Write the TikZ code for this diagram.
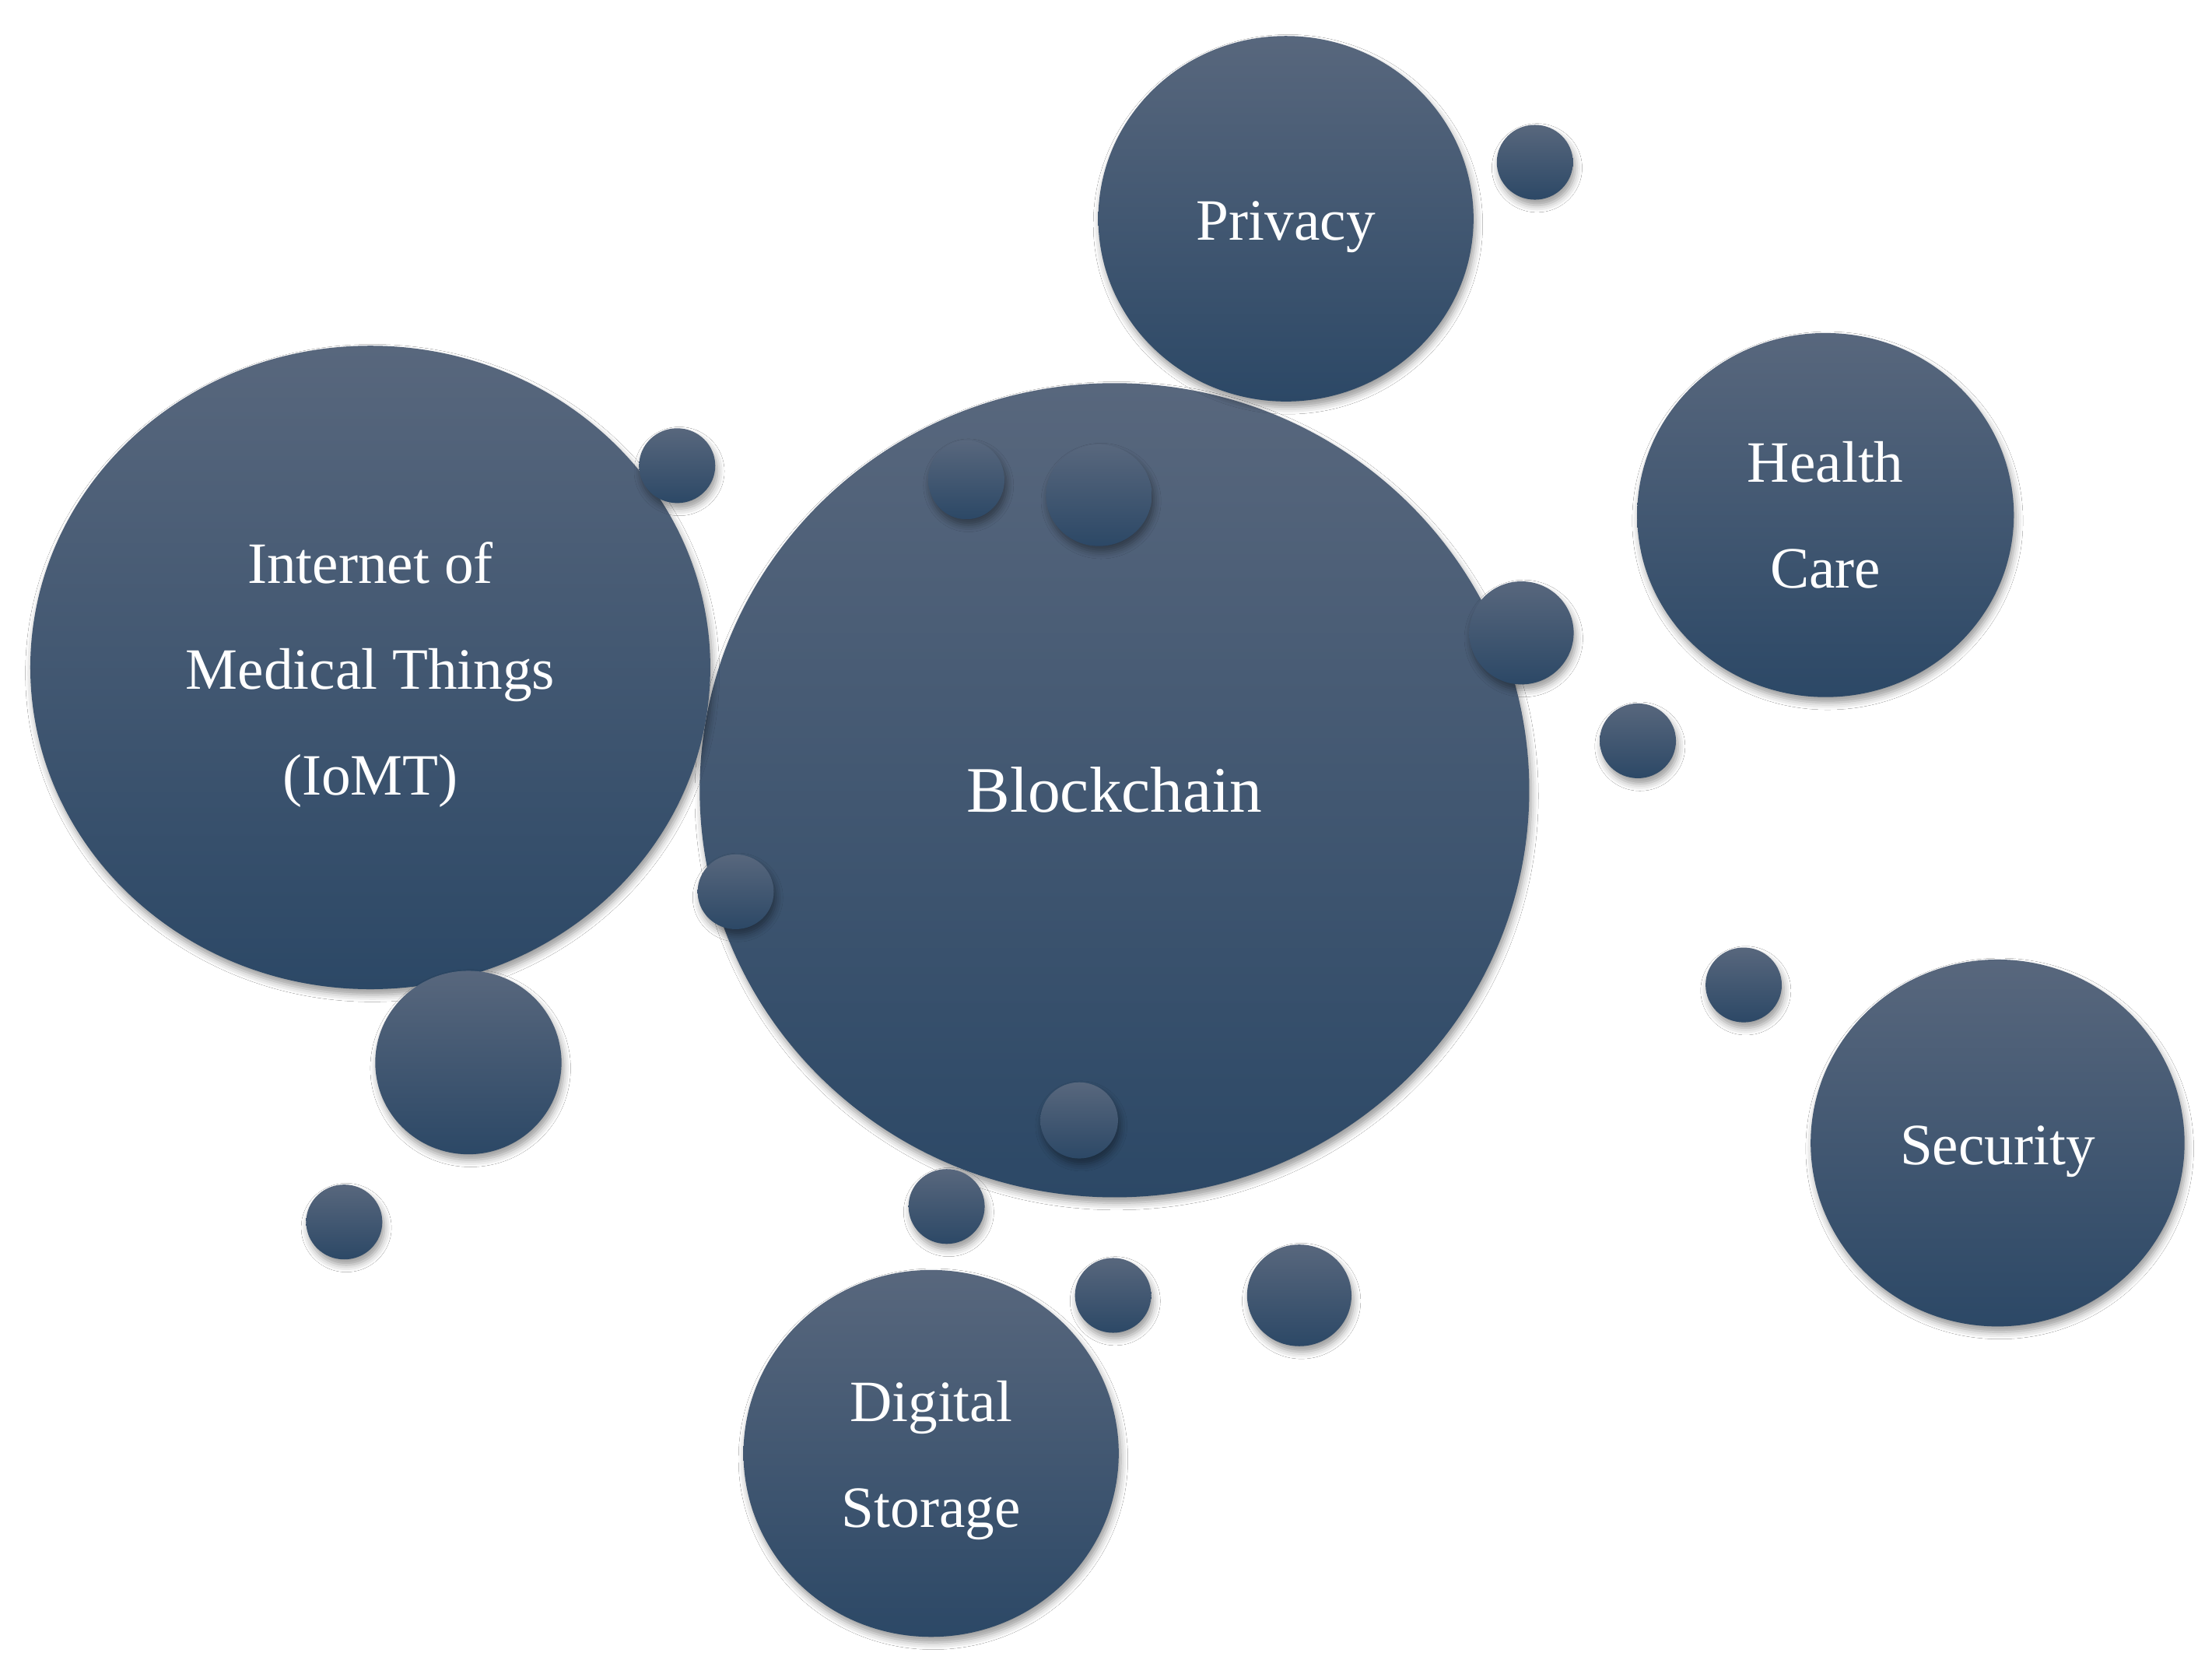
\documentclass[tikz,border=0pt]{standalone}
\usepackage{fontspec}
\setmainfont{Liberation Serif}
\usetikzlibrary{shapes.geometric,shadows.blur}
\definecolor{bubtop}{RGB}{88,103,125}
\definecolor{bubbot}{RGB}{44,72,102}
\tikzset{
  bubble/.style n args={2}{ellipse, inner sep=0pt, minimum width=#1, minimum height=#2,
    draw=none, top color=bubtop, bottom color=bubbot, shading angle=0,
    blur shadow={shadow xshift=1.5pt, shadow yshift=-4pt, shadow blur radius=5pt, shadow opacity=40}},
  lbl/.style={text=white, align=center, inner sep=0pt, font=\fontsize{41.5}{75}\selectfont},
  biglbl/.style={text=white, align=center, inner sep=0pt, font=\fontsize{46}{55}\selectfont},
}
\begin{document}
\begin{tikzpicture}[x=1pt,y=-1pt]
\useasboundingbox (0,0) rectangle (1568,1181);
\fill[white] (0,0) rectangle (1568,1181);
% large bubbles
\node[bubble={588pt}{577pt}] (blk) at (790,560) {};
\node[bubble={482pt}{456pt}] (iomt) at (262.5,473) {};
\node[bubble={266pt}{259pt}] (priv) at (911.5,155) {};
\node[bubble={267pt}{258pt}] (hc) at (1294,365) {};
\node[bubble={265pt}{260pt}] (sec) at (1416,810) {};
\node[bubble={266pt}{260pt}] (ds) at (660,1030) {};
% labels
\node[biglbl] (blkT) at (blk.center) {Blockchain};
\node[lbl] (iomtT) at ([yshift=-5pt]iomt.center) {Internet of\\Medical Things\\(IoMT)};
\node[lbl] (privT) at ([yshift=-6pt]priv.center) {Privacy};
\node[lbl] (hcT) at (hc.center) {Health\\Care};
\node[lbl] (secT) at ([yshift=-6pt]sec.center) {Security};
\node[lbl] (dsT) at ([yshift=-5pt]ds.center) {Digital\\Storage};
% small bubbles
\node[bubble={54pt}{53pt}] (s1) at (1088,115) {};
\node[bubble={54pt}{53pt}] (s2) at (480,330) {};
\node[bubble={54pt}{56pt}] (s3) at (685,340) {};
\node[bubble={75pt}{72pt}] (s4) at (779,351) {};
\node[bubble={74pt}{73pt}] (s5) at (1078.5,448.5) {};
\node[bubble={54pt}{53pt}] (s6) at (1161,525) {};
\node[bubble={54pt}{53pt}] (s7) at (521.5,632) {};
\node[bubble={132pt}{130pt}] (s8) at (332,753) {};
\node[bubble={54pt}{53pt}] (s9) at (244,866) {};
\node[bubble={55pt}{54pt}] (s10) at (765,794) {};
\node[bubble={54pt}{53pt}] (s11) at (671,855) {};
\node[bubble={54pt}{53pt}] (s12) at (789,918) {};
\node[bubble={74pt}{72pt}] (s13) at (921,918) {};
\node[bubble={54pt}{53pt}] (s14) at (1236,698) {};
\end{tikzpicture}
\end{document}
